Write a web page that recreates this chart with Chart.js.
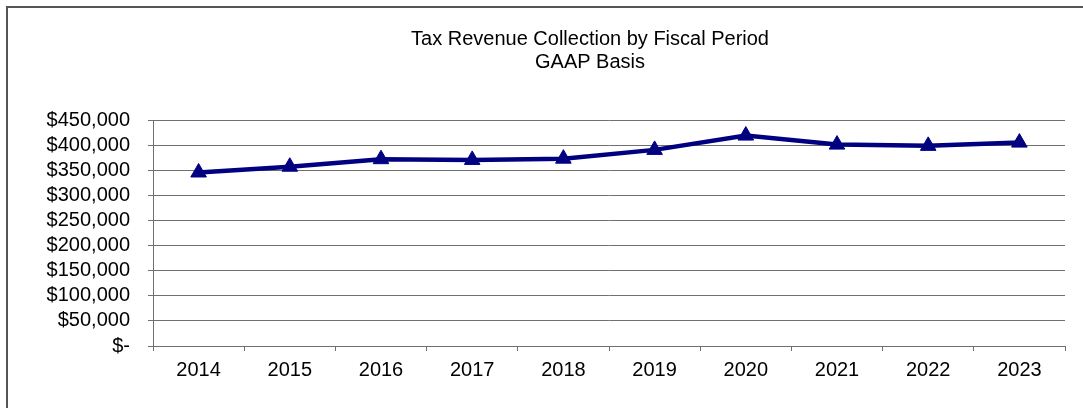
<!DOCTYPE html>
<html>
<head>
<meta charset="utf-8">
<script src="https://cdn.jsdelivr.net/npm/chart.js@4.4.1/dist/chart.umd.min.js"></script>
<style>
    html, body { margin: 0; padding: 0; background: #fff; overflow: hidden; width: 1083px; height: 408px; }
    #frame { position: absolute; left: 6px; top: 6px; width: 2000px; height: 2000px; border-left: 2px solid #555; border-top: 2px solid #555; box-sizing: border-box; }
    #revenue-chart { position: absolute; left: 0; top: 0; }
</style>
</head>
<body>
<div id="frame"></div>
<canvas id="revenue-chart" width="1180" height="408"></canvas>
<script>
const fiscalYears = ['2014', '2015', '2016', '2017', '2018', '2019', '2020', '2021', '2022', '2023'];
const taxRevenue = [345500, 357000, 372000, 370500, 373000, 390500, 419000, 401000, 398500, 405000];
const chartTitle = ['Tax Revenue Collection by Fiscal Period', 'GAAP Basis'];

const formatDollars = (value) => {
    if (value === 0) return '$-';
    return '$' + value.toLocaleString('en-US');
};

const font = { family: '"Liberation Sans", Arial, sans-serif', size: 20 };
const gridColor = '#6f6f6f';

new Chart(document.getElementById('revenue-chart'), {
    type: 'line',
    data: {
        labels: fiscalYears,
        datasets: [{
            label: 'Tax Revenue',
            data: taxRevenue,
            borderColor: '#000080',
            backgroundColor: '#000080',
            borderWidth: 4.5,
            pointStyle: 'triangle',
            pointRadius: 9,
            pointBorderWidth: 1,
            pointHoverRadius: 9,
            tension: 0
        }]
    },
    options: {
        responsive: false,
        animation: false,
        layout: { padding: { top: 0, left: 0, right: 0, bottom: 12 } },
        plugins: {
            legend: { display: false },
            tooltip: { enabled: false },
            title: {
                display: true,
                text: chartTitle,
                color: '#000',
                font: { ...font, weight: 'normal', lineHeight: 1.15 },
                padding: { top: 28, bottom: 46 }
            }
        },
        scales: {
            x: {
                offset: true,
                grid: { offset: true, drawOnChartArea: false, drawTicks: true, tickLength: 5, color: gridColor },
                border: { color: gridColor, width: 1 },
                ticks: { color: '#000', font, padding: 7, maxRotation: 0, autoSkip: false },
                afterFit: (scale) => { scale.height = 50; }
            },
            y: {
                min: 0,
                max: 450000,
                grid: { color: gridColor, drawTicks: true, tickLength: 5 },
                border: { color: gridColor, width: 1 },
                ticks: { stepSize: 50000, color: '#000', font, padding: 18, autoSkip: false, callback: formatDollars },
                afterFit: (scale) => { scale.width = 153; }
            },
            // empty right-hand space of the original (cut-off) chart
            spacer: {
                position: 'right',
                min: 0,
                max: 1,
                grid: { display: false, drawOnChartArea: false },
                border: { display: false },
                ticks: { display: false },
                afterFit: (scale) => { scale.width = 115; }
            }
        }
    }
});
</script>
</body>
</html>
